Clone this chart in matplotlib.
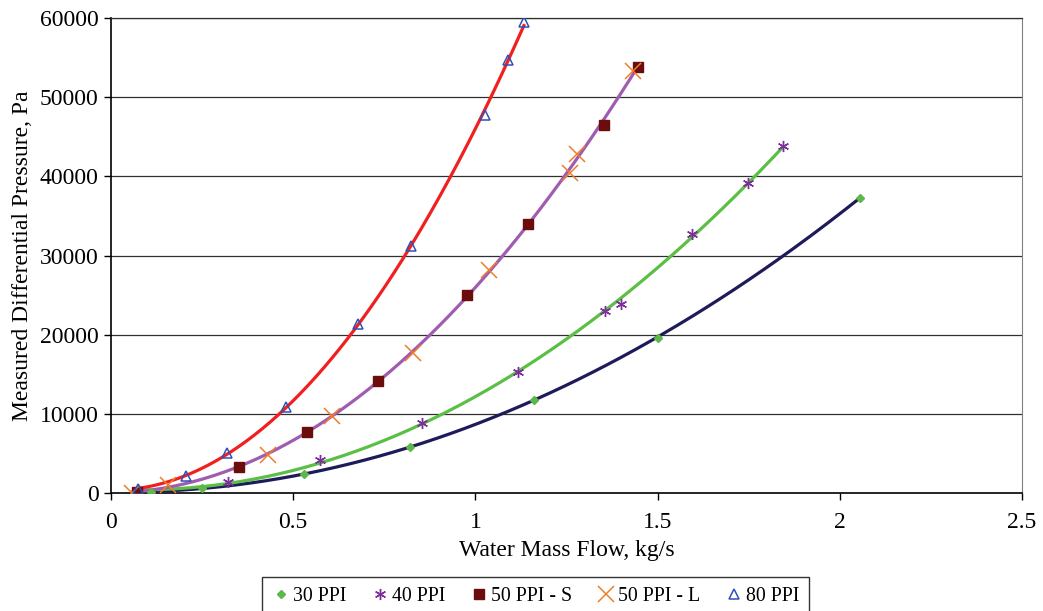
import numpy as np
import matplotlib
matplotlib.use('Agg')
import matplotlib.pyplot as plt

plt.rcParams['font.family'] = ['Liberation Serif', 'DejaVu Serif']

# data
x_30 = [0.11, 0.25, 0.53, 0.82, 1.16, 1.50, 2.055]
y_30 = [150, 600, 2400, 5800, 11800, 19600, 37300]

x_40 = [0.071, 0.321, 0.574, 0.853, 1.117, 1.356, 1.400, 1.594, 1.748, 1.844]
y_40 = [100, 1390, 4170, 8840, 15280, 22990, 23870, 32710, 39150, 43830]

x_50s = [0.071, 0.351, 0.538, 0.733, 0.978, 1.143, 1.352, 1.445]
y_50s = [150, 3320, 7700, 14150, 25000, 33960, 46460, 53790]

x_50l = [0.058, 0.156, 0.431, 0.606, 0.829, 1.037, 1.260, 1.279, 1.432]
y_50l = [0, 1000, 4800, 9720, 17680, 28160, 40420, 42820, 53300]

x_80 = [0.074, 0.206, 0.318, 0.480, 0.678, 0.823, 1.026, 1.089, 1.133]
y_80 = [500, 2150, 5050, 10860, 21340, 31190, 47740, 54670, 59470]

x_ticks = [0, 0.5, 1, 1.5, 2, 2.5]
x_tick_labels = ['0', '0.5', '1', '1.5', '2', '2.5']
y_ticks = [0, 10000, 20000, 30000, 40000, 50000, 60000]


def trend(ax, xs, ys, color):
    # excel style 2nd order polynomial trendline
    coef = np.polyfit(xs, ys, 2)
    xx = np.linspace(min(xs), max(xs), 200)
    ax.plot(xx, np.polyval(coef, xx), color=color, lw=2.3, zorder=3)


fig = plt.figure(figsize=(10.43, 6.11), dpi=100)
ax = fig.add_axes([0.1064, 0.1931, 0.8735, 0.7774])

for v in y_ticks[1:]:
    ax.axhline(v, color='#303030', lw=0.9, zorder=1)

trend(ax, x_30, y_30, '#1e1b5a')
trend(ax, x_40, y_40, '#5cbf45')
trend(ax, x_50s + x_50l, y_50s + y_50l, '#a05cb0')
trend(ax, x_80, y_80, '#f02020')

ax.plot(x_30, y_30, ls='none', marker='D', ms=4.5, color='#5cb848', label='30 PPI', zorder=4)
ax.plot(x_40, y_40, ls='none', marker=(6, 2, 0), ms=8, mew=1.0, color='#7a2f9a', label='40 PPI', zorder=4)
ax.plot(x_50s, y_50s, ls='none', marker='s', ms=6.5, color='#6b0d0d', label='50 PPI - S', zorder=4)
ax.plot(x_50l, y_50l, ls='none', marker='x', ms=12, mew=1.1, color='#f07d2a', label='50 PPI - L', zorder=4)
ax.plot(x_80, y_80, ls='none', marker='^', ms=6.5, mfc='none', mew=1.1, color='#3050b4', label='80 PPI', zorder=5)

ax.set_xlim(0, 2.5)
ax.set_ylim(0, 60000)
ax.set_xticks(x_ticks)
ax.set_xticklabels(x_tick_labels)
ax.set_yticks(y_ticks)
ax.tick_params(labelsize=17, direction='out', length=5, width=1, color='black')
ax.tick_params(axis='x', pad=9)
ax.tick_params(axis='y', pad=4)

for side in ['left', 'bottom']:
    ax.spines[side].set_color('black')
    ax.spines[side].set_linewidth(1.2)
ax.spines['right'].set_color('#808080')
ax.spines['top'].set_color('#303030')
ax.spines['top'].set_linewidth(0.9)

ax.set_xlabel('Water Mass Flow, kg/s', fontsize=17, labelpad=5)
ax.set_ylabel('Measured Differential Pressure, Pa', fontsize=17, labelpad=5)

leg = fig.legend(loc='upper left', bbox_to_anchor=(262 / 1043, 1 - 577 / 611),
                 ncol=5, fontsize=14.3, frameon=True, fancybox=False,
                 edgecolor='black', handletextpad=0.15, columnspacing=1.25,
                 borderpad=0.5, handlelength=0.9, borderaxespad=0)
leg.get_frame().set_linewidth(1.0)

fig.savefig('out.png', dpi=100)
